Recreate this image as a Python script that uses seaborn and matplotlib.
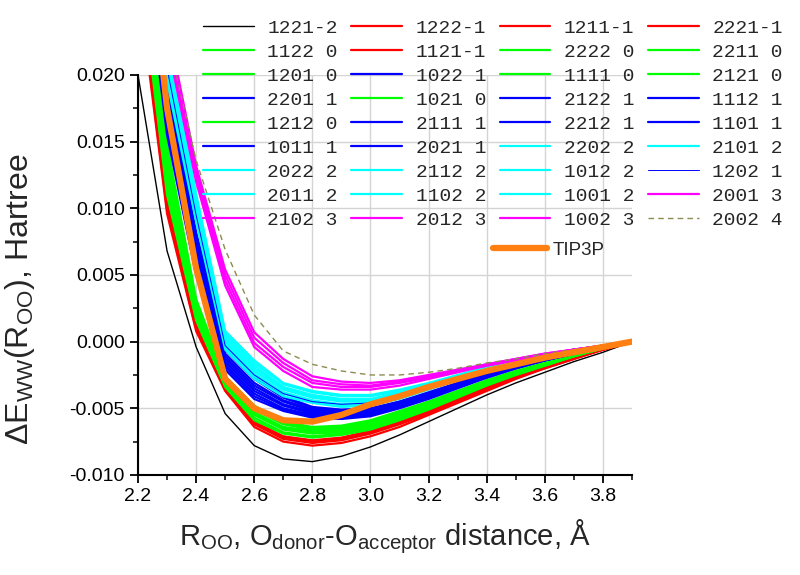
import numpy as np
import pandas as pd
import matplotlib
matplotlib.use('Agg')
import matplotlib.pyplot as plt
from matplotlib.ticker import MultipleLocator, FormatStrFormatter
from matplotlib.lines import Line2D
import seaborn as sns

# R_OO grid, Angstrom
r_oo = [2.2, 2.3, 2.4, 2.5, 2.6, 2.7, 2.8, 2.9, 3.0, 3.1, 3.2, 3.3, 3.4, 3.5, 3.6, 3.7, 3.8, 3.9]

# energies in mHartree, grouped by charge label
names_m2 = ['1221-2']
e_m2 = [
    [20.0, 6.8, -0.4, -5.4, -7.8, -8.8, -9.0, -8.6, -7.9, -7.0, -6.0, -5.0, -4.0, -3.1, -2.3, -1.5, -0.8, 0.0],
]

names_m1 = ['1222-1', '1121-1', '1211-1', '2221-1']
e_m1 = [
    [27.0, 9.6, 0.8, -3.7, -6.4, -7.5, -7.8, -7.6, -7.1, -6.4, -5.5, -4.6, -3.7, -2.8, -2.0, -1.3, -0.6, 0.0],
    [27.5, 9.9, 1.0, -3.6, -6.2, -7.3, -7.6, -7.4, -6.9, -6.2, -5.4, -4.5, -3.6, -2.7, -2.0, -1.3, -0.6, 0.0],
    [28.0, 10.2, 1.2, -3.5, -6.1, -7.2, -7.5, -7.3, -6.8, -6.1, -5.3, -4.4, -3.5, -2.7, -1.9, -1.2, -0.6, 0.0],
    [28.5, 10.5, 1.5, -3.5, -6.0, -7.1, -7.4, -7.2, -6.7, -6.0, -5.2, -4.3, -3.4, -2.6, -1.9, -1.2, -0.6, 0.0],
]

names_0 = ['1122 0', '1201 0', '1212 0', '1021 0', '2222 0', '1111 0', '2211 0', '2121 0']
e_0 = [
    [29.0, 11.0, 1.6, -3.4, -5.9, -6.9, -7.2, -7.0, -6.6, -5.9, -5.1, -4.2, -3.3, -2.5, -1.8, -1.1, -0.5, 0.0],
    [30.0, 11.5, 1.9, -3.3, -5.7, -6.8, -7.1, -6.9, -6.5, -5.8, -5.0, -4.1, -3.2, -2.5, -1.8, -1.1, -0.5, 0.0],
    [31.0, 12.0, 2.1, -3.2, -5.5, -6.6, -6.9, -6.8, -6.4, -5.7, -4.9, -4.0, -3.2, -2.4, -1.7, -1.1, -0.5, 0.0],
    [31.5, 12.5, 2.4, -3.1, -5.4, -6.5, -6.8, -6.7, -6.3, -5.6, -4.8, -3.9, -3.1, -2.4, -1.7, -1.1, -0.5, 0.0],
    [32.0, 13.0, 2.6, -3.0, -5.3, -6.4, -6.7, -6.6, -6.2, -5.5, -4.7, -3.9, -3.1, -2.3, -1.7, -1.0, -0.5, 0.0],
    [33.0, 13.6, 2.8, -2.9, -5.1, -6.2, -6.6, -6.5, -6.1, -5.4, -4.6, -3.8, -3.0, -2.3, -1.6, -1.0, -0.5, 0.0],
    [34.0, 14.2, 3.0, -2.7, -5.0, -6.1, -6.5, -6.4, -6.0, -5.3, -4.5, -3.7, -2.9, -2.2, -1.6, -1.0, -0.5, 0.0],
    [35.0, 14.8, 3.2, -2.6, -4.8, -6.0, -6.4, -6.3, -5.9, -5.2, -4.5, -3.7, -2.9, -2.2, -1.6, -1.0, -0.5, 0.0],
]

names_1 = ['2201 1', '1011 1', '1022 1', '2111 1', '2021 1', '2122 1', '2212 1', '1112 1', '1101 1']
e_1 = [
    [33.0, 15.5, 5.0, -2.1, -4.3, -5.2, -5.7, -5.8, -5.6, -5.0, -4.3, -3.5, -2.7, -2.0, -1.4, -0.9, -0.4, 0.0],
    [34.0, 16.0, 5.4, -1.9, -4.1, -5.1, -5.6, -5.7, -5.5, -4.9, -4.2, -3.4, -2.7, -2.0, -1.4, -0.9, -0.4, 0.0],
    [35.0, 16.5, 5.8, -1.7, -3.9, -5.0, -5.5, -5.6, -5.4, -4.8, -4.1, -3.4, -2.6, -2.0, -1.4, -0.9, -0.4, 0.0],
    [36.0, 17.0, 6.2, -1.5, -3.7, -4.8, -5.4, -5.5, -5.3, -4.8, -4.1, -3.3, -2.6, -1.9, -1.4, -0.9, -0.4, 0.0],
    [37.0, 17.5, 6.6, -1.3, -3.5, -4.7, -5.3, -5.4, -5.3, -4.7, -4.0, -3.3, -2.5, -1.9, -1.4, -0.9, -0.4, 0.0],
    [38.0, 18.0, 7.0, -1.1, -3.3, -4.5, -5.2, -5.4, -5.2, -4.7, -4.0, -3.2, -2.5, -1.9, -1.3, -0.8, -0.4, 0.0],
    [39.0, 18.5, 7.4, -0.9, -3.1, -4.4, -5.1, -5.3, -5.1, -4.6, -3.9, -3.2, -2.5, -1.9, -1.3, -0.8, -0.4, 0.0],
    [40.0, 19.0, 7.8, -0.6, -2.8, -4.2, -5.0, -5.2, -5.1, -4.5, -3.9, -3.1, -2.4, -1.8, -1.3, -0.8, -0.4, 0.0],
    [41.0, 19.5, 8.2, -0.4, -2.6, -4.1, -4.9, -5.1, -5.0, -4.5, -3.8, -3.1, -2.4, -1.8, -1.3, -0.8, -0.4, 0.0],
]

names_1thin = ['1202 1']
e_1thin = [
    [44.0, 20.5, 9.5, -0.3, -2.5, -3.9, -4.5, -4.7, -4.6, -4.1, -3.5, -2.9, -2.2, -1.7, -1.2, -0.8, -0.4, 0.0],
]

names_2 = ['2022 2', '2011 2', '2112 2', '1102 2', '2202 2', '1012 2', '1001 2', '2101 2']
e_2 = [
    [42.0, 19.5, 9.0, -0.6, -2.8, -4.1, -4.6, -4.9, -4.8, -4.3, -3.6, -2.9, -2.2, -1.7, -1.2, -0.8, -0.4, 0.0],
    [43.0, 20.0, 9.3, -0.4, -2.6, -3.9, -4.5, -4.8, -4.7, -4.2, -3.5, -2.9, -2.2, -1.7, -1.2, -0.8, -0.4, 0.0],
    [44.0, 20.5, 9.6, -0.2, -2.4, -3.8, -4.4, -4.7, -4.6, -4.1, -3.5, -2.8, -2.2, -1.6, -1.2, -0.7, -0.3, 0.0],
    [45.0, 21.0, 9.9, 0.0, -2.2, -3.6, -4.2, -4.5, -4.5, -4.0, -3.4, -2.8, -2.1, -1.6, -1.1, -0.7, -0.3, 0.0],
    [46.0, 21.5, 10.2, 0.2, -2.0, -3.5, -4.1, -4.4, -4.4, -3.9, -3.3, -2.7, -2.1, -1.6, -1.1, -0.7, -0.3, 0.0],
    [47.0, 22.0, 10.5, 0.4, -1.8, -3.4, -4.0, -4.3, -4.3, -3.8, -3.3, -2.7, -2.0, -1.5, -1.1, -0.7, -0.3, 0.0],
    [48.0, 22.5, 10.8, 0.6, -1.6, -3.2, -3.8, -4.1, -4.1, -3.7, -3.2, -2.6, -2.0, -1.5, -1.1, -0.7, -0.3, 0.0],
    [49.0, 23.0, 11.1, 0.8, -1.4, -3.1, -3.7, -4.0, -4.0, -3.6, -3.1, -2.5, -1.9, -1.5, -1.0, -0.6, -0.3, 0.0],
]

names_3 = ['2102 3', '2012 3', '1002 3', '2001 3']
e_3 = [
    [48.0, 22.5, 12.0, 4.2, -0.4, -2.2, -3.4, -3.6, -3.6, -3.3, -2.8, -2.3, -1.8, -1.4, -1.0, -0.6, -0.3, 0.0],
    [49.0, 23.0, 12.4, 4.6, -0.1, -1.9, -3.1, -3.4, -3.4, -3.1, -2.7, -2.2, -1.8, -1.4, -1.0, -0.6, -0.3, 0.0],
    [50.0, 23.5, 12.8, 5.0, 0.3, -1.6, -2.9, -3.2, -3.3, -3.0, -2.6, -2.2, -1.7, -1.3, -0.9, -0.6, -0.3, 0.0],
    [51.0, 24.0, 13.2, 5.4, 0.7, -1.3, -2.6, -3.0, -3.1, -2.9, -2.5, -2.1, -1.7, -1.3, -0.9, -0.6, -0.3, 0.0],
]

names_4 = ['2002 4']
e_4 = [
    [46.0, 23.0, 13.6, 6.9, 2.0, -0.7, -1.7, -2.2, -2.5, -2.5, -2.3, -2.0, -1.6, -1.3, -0.9, -0.6, -0.3, 0.0],
]

e_tip3p = [37.0, 17.5, 5.5, -2.8, -5.0, -5.9, -6.0, -5.5, -4.7, -4.1, -3.4, -2.8, -2.2, -1.7, -1.2, -0.8, -0.4, 0.0]

# legend order (column by column)
legend_order = [
    '1221-2', '1122 0', '1201 0', '2201 1', '1212 0', '1011 1', '2022 2', '2011 2', '2102 3',
    '1222-1', '1121-1', '1022 1', '1021 0', '2111 1', '2021 1', '2112 2', '1102 2', '2012 3',
    '1211-1', '2222 0', '1111 0', '2122 1', '2212 1', '2202 2', '1012 2', '1001 2', '1002 3',
    '2221-1', '2211 0', '2121 0', '1112 1', '1101 1', '2101 2', '1202 1', '2001 3', '2002 4',
]

groups = [
    (names_m2, e_m2, dict(color='#000000', lw=1.0)),
    (names_m1, e_m1, dict(color='#ff0000', lw=1.6)),
    (names_0, e_0, dict(color='#00ff00', lw=1.6)),
    (names_1, e_1, dict(color='#0000ff', lw=1.6)),
    (names_2, e_2, dict(color='#00ffff', lw=1.6)),
    (names_1thin, e_1thin, dict(color='#0000ff', lw=0.7)),
    (names_3, e_3, dict(color='#ff00ff', lw=1.6)),
    (names_4, e_4, dict(color='#8c8c50', lw=1.0, linestyle=(0, (4, 3)))),
]

sns.set_style('white')
plt.rcParams['font.family'] = ['Liberation Sans', 'DejaVu Sans']
plt.rcParams['mathtext.fontset'] = 'custom'
plt.rcParams['mathtext.rm'] = 'Liberation Sans'
plt.rcParams['mathtext.it'] = 'Liberation Sans'
plt.rcParams['axes.unicode_minus'] = False

fig = plt.figure(figsize=(8, 5.75), dpi=100)
ax = fig.add_axes([0.1725, 0.174, 0.6175, 0.6956])

handles = {}
for names, rows, style in groups:
    for name, row in zip(names, rows):
        d = pd.DataFrame({'r': r_oo, 'e': np.array(row) / 1000.0})
        sns.lineplot(data=d, x='r', y='e', ax=ax, legend=False, **style)
        handles[name] = Line2D([], [], **style)

d = pd.DataFrame({'r': r_oo, 'e': np.array(e_tip3p) / 1000.0})
sns.lineplot(data=d, x='r', y='e', ax=ax, legend=False, color='#ff7f10', lw=4.5)

ax.set_xlim(2.2, 3.9)
ax.set_ylim(-0.010, 0.020)
ax.xaxis.set_major_locator(MultipleLocator(0.2))
ax.xaxis.set_minor_locator(MultipleLocator(0.1))
ax.yaxis.set_major_locator(MultipleLocator(0.005))
ax.yaxis.set_minor_locator(MultipleLocator(0.0025))
ax.xaxis.set_major_formatter(FormatStrFormatter('%.1f'))
ax.yaxis.set_major_formatter(FormatStrFormatter('%.3f'))
ax.set_xticks([2.2, 2.4, 2.6, 2.8, 3.0, 3.2, 3.4, 3.6, 3.8])
ax.tick_params(which='major', direction='out', length=6, width=1.3, labelsize=14,
               bottom=True, left=True, colors='black')
ax.tick_params(which='minor', direction='out', length=3.5, width=1.3, bottom=True, left=True)
ax.grid(True, which='major', color='#d4d4d4', lw=1.0)
ax.yaxis.get_gridlines()[-1].set_visible(False)
for s in ['top', 'right']:
    ax.spines[s].set_visible(False)
for s in ['left', 'bottom']:
    ax.spines[s].set_color('black')
    ax.spines[s].set_linewidth(1.5)

ax.set_xlabel('R$_{\\rm OO}$, O$_{\\rm donor}$-O$_{\\rm acceptor}$ distance, Å', fontsize=21, labelpad=9)
ax.set_ylabel('ΔE$_{\\rm WW}$(R$_{\\rm OO}$), Hartree', fontsize=23)
ax.yaxis.set_label_coords(-0.205, 0.44)

fig.legend([handles[n] for n in legend_order], legend_order, ncol=4,
           loc='upper left', bbox_to_anchor=(0.254, 0.967),
           prop={'family': 'Liberation Mono', 'size': 14},
           frameon=False, borderpad=0, borderaxespad=0,
           handlelength=2.6, handletextpad=0.7, columnspacing=0.7, labelspacing=0.33)
fig.legend([Line2D([], [], color='#ff7f10', lw=4.5)], ['TIP3P'],
           loc='center left', bbox_to_anchor=(0.616, 0.565),
           prop={'family': 'Liberation Sans', 'size': 13.5},
           frameon=False, borderpad=0, borderaxespad=0,
           handlelength=2.9, handletextpad=0.3)

fig.savefig('out.png', dpi=100)
